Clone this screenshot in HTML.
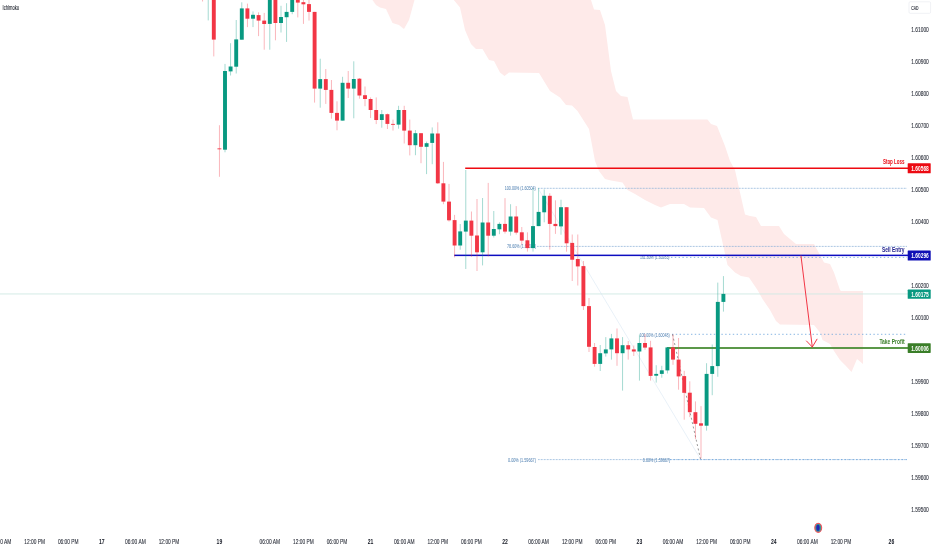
<!DOCTYPE html>
<html lang="en"><head><meta charset="utf-8"><title>Ichimoku chart</title>
<style>html,body{margin:0;padding:0;background:#fff;overflow:hidden}svg{display:block}text{font-family:"Liberation Sans",Arial,sans-serif}</style>
</head><body>
<svg width="932" height="550" viewBox="0 0 932 550" font-family="Liberation Sans, Arial, sans-serif">
<polygon points="372.5,0.0 376.0,5.0 380.0,7.5 386.0,9.0 392.5,23.0 399.0,25.0 404.0,29.0 409.0,20.0 414.5,0.0" fill="#feeae9"/>
<polygon points="453.8,0.0 460.0,7.5 465.0,30.0 471.0,44.0 476.0,49.0 482.5,49.0 489.0,60.0 494.0,61.0 500.0,72.5 504.5,76.0 509.0,72.5 539.0,73.0 550.0,91.0 560.0,97.5 566.0,105.0 572.0,105.5 577.5,111.0 589.0,129.0 595.0,161.0 599.0,171.0 605.0,179.0 611.0,180.5 622.5,182.5 627.5,190.0 635.0,194.0 645.0,200.0 655.0,205.0 661.0,207.5 670.0,204.0 684.0,204.0 690.0,207.5 704.0,208.0 711.0,217.5 717.5,220.0 722.5,242.5 727.5,265.0 735.0,272.5 741.0,276.0 749.0,277.5 757.5,290.0 762.5,299.0 770.0,310.0 776.0,321.0 780.0,324.5 814.0,325.0 820.0,332.5 822.5,340.0 830.0,344.0 834.0,351.0 840.0,360.0 845.0,365.0 851.5,372.0 857.0,359.0 863.0,364.0 863.0,291.0 841.0,291.0 840.0,290.0 834.0,272.5 830.0,264.0 824.0,262.5 820.0,255.0 814.0,244.0 796.0,244.0 784.0,234.0 779.0,226.0 761.0,226.0 756.0,217.0 750.0,216.0 745.0,214.5 740.0,192.5 735.0,170.0 730.0,161.0 725.0,146.0 717.0,126.0 711.0,124.0 707.5,119.5 633.0,119.5 627.5,97.0 621.0,96.0 616.0,91.0 611.0,71.0 605.0,25.0 600.0,10.0 594.0,9.5 591.0,0.0" fill="#feeae9"/>
<rect x="0" y="293.5" width="908" height="0.9" fill="#cfe9e3"/>
<line x1="538" y1="188.3" x2="907" y2="188.3" stroke="#8fb4d9" stroke-width="1" stroke-dasharray="0.75 0.75"/>
<line x1="537" y1="246.4" x2="907" y2="246.4" stroke="#8fb4d9" stroke-width="1" stroke-dasharray="0.75 0.75"/>
<line x1="538" y1="459.6" x2="907" y2="459.6" stroke="#8fb4d9" stroke-width="1" stroke-dasharray="0.75 0.75"/>
<line x1="672" y1="334.3" x2="907" y2="334.3" stroke="#6aa3dc" stroke-width="0.8" stroke-dasharray="1.4 2.4"/>
<line x1="671" y1="257.4" x2="907" y2="257.4" stroke="#6aa3dc" stroke-width="0.8" stroke-dasharray="1.4 2.4"/>
<line x1="670" y1="459.6" x2="907" y2="459.6" stroke="#6aa3dc" stroke-width="0.8" stroke-dasharray="1.4 2.4"/>
<line x1="538" y1="188.3" x2="700.5" y2="459" stroke="#d3e2f1" stroke-width="0.5"/>
<line x1="672.5" y1="334.3" x2="700.5" y2="459" stroke="#707070" stroke-width="0.7" stroke-dasharray="2 2.5"/>
<text x="504.8" y="190.3" font-size="6.2" fill="#6690bb" stroke="#6690bb" stroke-width="0.08" font-weight="normal" text-anchor="start" textLength="31.0" lengthAdjust="spacingAndGlyphs" opacity="1">100.00% (1.60504)</text>
<text x="507.1" y="248.4" font-size="6.2" fill="#6690bb" stroke="#6690bb" stroke-width="0.08" font-weight="normal" text-anchor="start" textLength="29.0" lengthAdjust="spacingAndGlyphs" opacity="1">78.60% (1.60325)</text>
<text x="508.0" y="461.9" font-size="6.2" fill="#6690bb" stroke="#6690bb" stroke-width="0.08" font-weight="normal" text-anchor="start" textLength="28.0" lengthAdjust="spacingAndGlyphs" opacity="1">0.00% (1.59667)</text>
<text x="639.4" y="336.5" font-size="6.2" fill="#6690bb" stroke="#6690bb" stroke-width="0.08" font-weight="normal" text-anchor="start" textLength="30.3" lengthAdjust="spacingAndGlyphs" opacity="1">100.00% (1.60048)</text>
<text x="640.0" y="259.3" font-size="6.2" fill="#6690bb" stroke="#6690bb" stroke-width="0.08" font-weight="normal" text-anchor="start" textLength="29.5" lengthAdjust="spacingAndGlyphs" opacity="1">161.80% (1.60283)</text>
<text x="642.8" y="461.9" font-size="6.2" fill="#6690bb" stroke="#6690bb" stroke-width="0.08" font-weight="normal" text-anchor="start" textLength="27.4" lengthAdjust="spacingAndGlyphs" opacity="1">0.00% (1.59667)</text>
<rect x="465.2" y="167.5" width="443" height="1.5" fill="#ee0a10"/>
<rect x="454.2" y="254.6" width="454" height="1.5" fill="#0d0dc0"/>
<rect x="667" y="347.1" width="241.5" height="1.8" fill="#4a8d36"/>
<rect x="202.15" y="-5.0" width="0.9" height="6.5" fill="#f23645" opacity="0.4"/>
<rect x="200.65" y="-5.0" width="3.9" height="1.0" fill="#f23645"/>
<rect x="207.75" y="-5.0" width="0.9" height="25.4" fill="#089981" opacity="0.4"/>
<rect x="206.25" y="-5.0" width="3.9" height="1.0" fill="#089981"/>
<rect x="213.35" y="-5.0" width="0.9" height="61.4" fill="#f23645" opacity="0.4"/>
<rect x="211.85" y="-5.0" width="3.9" height="44.6" fill="#f23645"/>
<rect x="218.95" y="125.2" width="0.9" height="51.6" fill="#f23645" opacity="0.4"/>
<rect x="217.45" y="148.4" width="3.9" height="0.9" fill="#f23645"/>
<rect x="224.55" y="63.9" width="0.9" height="88.4" fill="#089981" opacity="0.4"/>
<rect x="223.05" y="71.0" width="3.9" height="78.7" fill="#089981"/>
<rect x="230.15" y="43.2" width="0.9" height="32.3" fill="#089981" opacity="0.4"/>
<rect x="228.65" y="66.5" width="3.9" height="4.9" fill="#089981"/>
<rect x="235.75" y="20.0" width="0.9" height="53.5" fill="#089981" opacity="0.4"/>
<rect x="234.25" y="39.4" width="3.9" height="27.3" fill="#089981"/>
<rect x="241.35" y="2.3" width="0.9" height="37.4" fill="#089981" opacity="0.4"/>
<rect x="239.85" y="8.4" width="3.9" height="31.3" fill="#089981"/>
<rect x="246.95" y="3.6" width="0.9" height="23.5" fill="#f23645" opacity="0.4"/>
<rect x="245.45" y="8.4" width="3.9" height="10.3" fill="#f23645"/>
<rect x="252.55" y="11.4" width="0.9" height="15.7" fill="#089981" opacity="0.4"/>
<rect x="251.05" y="14.8" width="3.9" height="3.9" fill="#089981"/>
<rect x="258.15" y="12.3" width="0.9" height="23.8" fill="#f23645" opacity="0.4"/>
<rect x="256.65" y="15.1" width="3.9" height="5.5" fill="#f23645"/>
<rect x="263.75" y="12.9" width="0.9" height="36.8" fill="#f23645" opacity="0.4"/>
<rect x="262.25" y="20.6" width="3.9" height="3.4" fill="#f23645"/>
<rect x="269.35" y="-5.0" width="0.9" height="54.7" fill="#089981" opacity="0.4"/>
<rect x="267.85" y="-5.0" width="3.9" height="28.9" fill="#089981"/>
<rect x="274.95" y="-5.0" width="0.9" height="45.3" fill="#f23645" opacity="0.4"/>
<rect x="273.45" y="-5.0" width="3.9" height="28.0" fill="#f23645"/>
<rect x="280.55" y="5.8" width="0.9" height="26.7" fill="#089981" opacity="0.4"/>
<rect x="279.05" y="17.0" width="3.9" height="6.0" fill="#089981"/>
<rect x="286.15" y="3.2" width="0.9" height="38.7" fill="#089981" opacity="0.4"/>
<rect x="284.65" y="11.9" width="3.9" height="5.3" fill="#089981"/>
<rect x="291.75" y="-5.0" width="0.9" height="19.2" fill="#089981" opacity="0.4"/>
<rect x="290.25" y="-5.0" width="3.9" height="16.9" fill="#089981"/>
<rect x="297.35" y="-5.0" width="0.9" height="22.4" fill="#f23645" opacity="0.4"/>
<rect x="295.85" y="-5.0" width="3.9" height="7.6" fill="#f23645"/>
<rect x="302.95" y="-5.0" width="0.9" height="28.9" fill="#f23645" opacity="0.4"/>
<rect x="301.45" y="2.2" width="3.9" height="2.1" fill="#f23645"/>
<rect x="308.55" y="-5.0" width="0.9" height="25.6" fill="#f23645" opacity="0.4"/>
<rect x="307.05" y="4.1" width="3.9" height="7.8" fill="#f23645"/>
<rect x="314.15" y="11.9" width="0.9" height="90.7" fill="#f23645" opacity="0.4"/>
<rect x="312.65" y="11.9" width="3.9" height="76.7" fill="#f23645"/>
<rect x="319.75" y="58.7" width="0.9" height="49.0" fill="#089981" opacity="0.4"/>
<rect x="318.25" y="79.1" width="3.9" height="9.5" fill="#089981"/>
<rect x="325.35" y="69.0" width="0.9" height="34.9" fill="#f23645" opacity="0.4"/>
<rect x="323.85" y="79.1" width="3.9" height="10.8" fill="#f23645"/>
<rect x="330.95" y="80.0" width="0.9" height="38.7" fill="#f23645" opacity="0.4"/>
<rect x="329.45" y="89.9" width="3.9" height="23.0" fill="#f23645"/>
<rect x="336.55" y="101.3" width="0.9" height="29.0" fill="#f23645" opacity="0.4"/>
<rect x="335.05" y="112.9" width="3.9" height="7.7" fill="#f23645"/>
<rect x="342.15" y="76.8" width="0.9" height="43.8" fill="#089981" opacity="0.4"/>
<rect x="340.65" y="82.8" width="3.9" height="37.8" fill="#089981"/>
<rect x="347.75" y="71.0" width="0.9" height="27.0" fill="#f23645" opacity="0.4"/>
<rect x="346.25" y="82.8" width="3.9" height="5.8" fill="#f23645"/>
<rect x="353.35" y="61.3" width="0.9" height="57.0" fill="#089981" opacity="0.4"/>
<rect x="351.85" y="79.0" width="3.9" height="9.6" fill="#089981"/>
<rect x="358.95" y="78.0" width="0.9" height="20.7" fill="#f23645" opacity="0.4"/>
<rect x="357.45" y="78.7" width="3.9" height="16.8" fill="#f23645"/>
<rect x="364.55" y="86.5" width="0.9" height="19.7" fill="#f23645" opacity="0.4"/>
<rect x="363.05" y="95.2" width="3.9" height="3.8" fill="#f23645"/>
<rect x="370.15" y="97.4" width="0.9" height="20.6" fill="#f23645" opacity="0.4"/>
<rect x="368.65" y="99.0" width="3.9" height="11.0" fill="#f23645"/>
<rect x="375.75" y="97.4" width="0.9" height="26.7" fill="#f23645" opacity="0.4"/>
<rect x="374.25" y="110.0" width="3.9" height="10.0" fill="#f23645"/>
<rect x="381.35" y="110.0" width="0.9" height="17.7" fill="#089981" opacity="0.4"/>
<rect x="379.85" y="114.2" width="3.9" height="5.8" fill="#089981"/>
<rect x="386.95" y="113.5" width="0.9" height="15.5" fill="#f23645" opacity="0.4"/>
<rect x="385.45" y="114.2" width="3.9" height="9.7" fill="#f23645"/>
<rect x="392.55" y="119.6" width="0.9" height="11.0" fill="#f23645" opacity="0.4"/>
<rect x="391.05" y="123.9" width="3.9" height="0.9" fill="#f23645"/>
<rect x="398.15" y="105.8" width="0.9" height="22.9" fill="#089981" opacity="0.4"/>
<rect x="396.65" y="110.0" width="3.9" height="14.6" fill="#089981"/>
<rect x="403.75" y="105.8" width="0.9" height="37.7" fill="#f23645" opacity="0.4"/>
<rect x="402.25" y="110.0" width="3.9" height="20.6" fill="#f23645"/>
<rect x="409.35" y="119.6" width="0.9" height="35.8" fill="#f23645" opacity="0.4"/>
<rect x="407.85" y="130.6" width="3.9" height="14.6" fill="#f23645"/>
<rect x="414.95" y="130.0" width="0.9" height="25.2" fill="#089981" opacity="0.4"/>
<rect x="413.45" y="133.2" width="3.9" height="12.0" fill="#089981"/>
<rect x="420.55" y="133.0" width="0.9" height="30.2" fill="#f23645" opacity="0.4"/>
<rect x="419.05" y="133.2" width="3.9" height="13.6" fill="#f23645"/>
<rect x="426.15" y="141.6" width="0.9" height="32.5" fill="#089981" opacity="0.4"/>
<rect x="424.65" y="143.2" width="3.9" height="3.6" fill="#089981"/>
<rect x="431.75" y="127.4" width="0.9" height="36.8" fill="#089981" opacity="0.4"/>
<rect x="430.25" y="133.5" width="3.9" height="9.4" fill="#089981"/>
<rect x="437.35" y="122.3" width="0.9" height="61.7" fill="#f23645" opacity="0.4"/>
<rect x="435.85" y="133.5" width="3.9" height="49.8" fill="#f23645"/>
<rect x="442.95" y="161.9" width="0.9" height="42.3" fill="#f23645" opacity="0.4"/>
<rect x="441.45" y="183.3" width="3.9" height="18.3" fill="#f23645"/>
<rect x="448.55" y="183.9" width="0.9" height="37.7" fill="#f23645" opacity="0.4"/>
<rect x="447.05" y="201.6" width="3.9" height="18.7" fill="#f23645"/>
<rect x="454.15" y="214.9" width="0.9" height="42.5" fill="#f23645" opacity="0.4"/>
<rect x="452.65" y="220.1" width="3.9" height="25.4" fill="#f23645"/>
<rect x="459.75" y="224.0" width="0.9" height="25.7" fill="#089981" opacity="0.4"/>
<rect x="458.25" y="231.4" width="3.9" height="14.1" fill="#089981"/>
<rect x="465.35" y="170.0" width="0.9" height="99.0" fill="#089981" opacity="0.4"/>
<rect x="463.85" y="220.6" width="3.9" height="11.0" fill="#089981"/>
<rect x="470.95" y="211.5" width="0.9" height="45.3" fill="#f23645" opacity="0.4"/>
<rect x="469.45" y="220.6" width="3.9" height="15.1" fill="#f23645"/>
<rect x="476.55" y="199.0" width="0.9" height="72.0" fill="#f23645" opacity="0.4"/>
<rect x="475.05" y="235.5" width="3.9" height="16.8" fill="#f23645"/>
<rect x="482.15" y="198.0" width="0.9" height="67.4" fill="#089981" opacity="0.4"/>
<rect x="480.65" y="222.5" width="3.9" height="29.8" fill="#089981"/>
<rect x="487.75" y="182.9" width="0.9" height="73.6" fill="#f23645" opacity="0.4"/>
<rect x="486.25" y="222.5" width="3.9" height="13.2" fill="#f23645"/>
<rect x="493.35" y="211.0" width="0.9" height="26.5" fill="#089981" opacity="0.4"/>
<rect x="491.85" y="229.0" width="3.9" height="6.7" fill="#089981"/>
<rect x="498.95" y="222.3" width="0.9" height="11.9" fill="#089981" opacity="0.4"/>
<rect x="497.45" y="223.9" width="3.9" height="5.4" fill="#089981"/>
<rect x="504.55" y="198.1" width="0.9" height="35.4" fill="#f23645" opacity="0.4"/>
<rect x="503.05" y="223.9" width="3.9" height="7.7" fill="#f23645"/>
<rect x="510.15" y="204.2" width="0.9" height="31.5" fill="#089981" opacity="0.4"/>
<rect x="508.65" y="216.5" width="3.9" height="15.1" fill="#089981"/>
<rect x="515.75" y="206.1" width="0.9" height="28.5" fill="#f23645" opacity="0.4"/>
<rect x="514.25" y="216.5" width="3.9" height="16.1" fill="#f23645"/>
<rect x="521.35" y="227.0" width="0.9" height="17.5" fill="#f23645" opacity="0.4"/>
<rect x="519.85" y="232.3" width="3.9" height="8.3" fill="#f23645"/>
<rect x="526.95" y="232.3" width="0.9" height="19.3" fill="#f23645" opacity="0.4"/>
<rect x="525.45" y="240.3" width="3.9" height="7.8" fill="#f23645"/>
<rect x="532.55" y="188.1" width="0.9" height="63.5" fill="#089981" opacity="0.4"/>
<rect x="531.05" y="226.1" width="3.9" height="22.0" fill="#089981"/>
<rect x="538.15" y="188.1" width="0.9" height="38.0" fill="#089981" opacity="0.4"/>
<rect x="536.65" y="211.9" width="3.9" height="14.2" fill="#089981"/>
<rect x="543.75" y="189.4" width="0.9" height="32.9" fill="#089981" opacity="0.4"/>
<rect x="542.25" y="195.8" width="3.9" height="16.5" fill="#089981"/>
<rect x="549.35" y="193.2" width="0.9" height="56.4" fill="#f23645" opacity="0.4"/>
<rect x="547.85" y="195.8" width="3.9" height="28.1" fill="#f23645"/>
<rect x="554.95" y="200.3" width="0.9" height="33.6" fill="#f23645" opacity="0.4"/>
<rect x="553.45" y="223.9" width="3.9" height="2.2" fill="#f23645"/>
<rect x="560.55" y="199.7" width="0.9" height="35.0" fill="#089981" opacity="0.4"/>
<rect x="559.05" y="207.2" width="3.9" height="19.2" fill="#089981"/>
<rect x="566.15" y="207.2" width="0.9" height="44.5" fill="#f23645" opacity="0.4"/>
<rect x="564.65" y="207.2" width="3.9" height="36.1" fill="#f23645"/>
<rect x="571.75" y="234.5" width="0.9" height="46.5" fill="#f23645" opacity="0.4"/>
<rect x="570.25" y="242.9" width="3.9" height="16.8" fill="#f23645"/>
<rect x="577.35" y="234.5" width="0.9" height="51.0" fill="#f23645" opacity="0.4"/>
<rect x="575.85" y="259.0" width="3.9" height="7.4" fill="#f23645"/>
<rect x="582.95" y="261.0" width="0.9" height="49.0" fill="#f23645" opacity="0.4"/>
<rect x="581.45" y="266.1" width="3.9" height="40.0" fill="#f23645"/>
<rect x="588.55" y="298.0" width="0.9" height="54.0" fill="#f23645" opacity="0.4"/>
<rect x="587.05" y="306.1" width="3.9" height="40.7" fill="#f23645"/>
<rect x="594.15" y="343.0" width="0.9" height="23.7" fill="#f23645" opacity="0.4"/>
<rect x="592.65" y="347.0" width="3.9" height="16.9" fill="#f23645"/>
<rect x="599.75" y="345.0" width="0.9" height="26.0" fill="#089981" opacity="0.4"/>
<rect x="598.25" y="353.2" width="3.9" height="10.7" fill="#089981"/>
<rect x="605.35" y="337.1" width="0.9" height="19.5" fill="#089981" opacity="0.4"/>
<rect x="603.85" y="349.4" width="3.9" height="4.0" fill="#089981"/>
<rect x="610.95" y="333.9" width="0.9" height="25.7" fill="#089981" opacity="0.4"/>
<rect x="609.45" y="338.4" width="3.9" height="11.0" fill="#089981"/>
<rect x="616.55" y="328.5" width="0.9" height="37.3" fill="#f23645" opacity="0.4"/>
<rect x="615.05" y="338.4" width="3.9" height="14.8" fill="#f23645"/>
<rect x="622.15" y="337.1" width="0.9" height="53.5" fill="#089981" opacity="0.4"/>
<rect x="620.65" y="345.2" width="3.9" height="8.0" fill="#089981"/>
<rect x="627.75" y="341.0" width="0.9" height="18.6" fill="#f23645" opacity="0.4"/>
<rect x="626.25" y="345.2" width="3.9" height="4.2" fill="#f23645"/>
<rect x="633.35" y="345.5" width="0.9" height="10.5" fill="#f23645" opacity="0.4"/>
<rect x="631.85" y="349.4" width="3.9" height="2.1" fill="#f23645"/>
<rect x="638.95" y="334.5" width="0.9" height="46.1" fill="#089981" opacity="0.4"/>
<rect x="637.45" y="343.0" width="3.9" height="8.5" fill="#089981"/>
<rect x="644.55" y="333.9" width="0.9" height="15.9" fill="#f23645" opacity="0.4"/>
<rect x="643.05" y="343.0" width="3.9" height="4.6" fill="#f23645"/>
<rect x="650.15" y="340.8" width="0.9" height="39.8" fill="#f23645" opacity="0.4"/>
<rect x="648.65" y="347.4" width="3.9" height="28.5" fill="#f23645"/>
<rect x="655.75" y="365.2" width="0.9" height="17.4" fill="#089981" opacity="0.4"/>
<rect x="654.25" y="373.9" width="3.9" height="1.8" fill="#089981"/>
<rect x="661.35" y="365.8" width="0.9" height="11.9" fill="#089981" opacity="0.4"/>
<rect x="659.85" y="370.3" width="3.9" height="3.6" fill="#089981"/>
<rect x="666.95" y="347.4" width="0.9" height="26.1" fill="#089981" opacity="0.4"/>
<rect x="665.45" y="347.4" width="3.9" height="23.0" fill="#089981"/>
<rect x="672.55" y="334.5" width="0.9" height="30.3" fill="#f23645" opacity="0.4"/>
<rect x="671.05" y="347.4" width="3.9" height="12.2" fill="#f23645"/>
<rect x="678.15" y="338.0" width="0.9" height="51.7" fill="#f23645" opacity="0.4"/>
<rect x="676.65" y="359.6" width="3.9" height="16.8" fill="#f23645"/>
<rect x="683.75" y="370.8" width="0.9" height="48.9" fill="#f23645" opacity="0.4"/>
<rect x="682.25" y="376.1" width="3.9" height="16.7" fill="#f23645"/>
<rect x="689.35" y="381.3" width="0.9" height="35.8" fill="#f23645" opacity="0.4"/>
<rect x="687.85" y="392.7" width="3.9" height="19.5" fill="#f23645"/>
<rect x="694.95" y="401.4" width="0.9" height="37.6" fill="#f23645" opacity="0.4"/>
<rect x="693.45" y="412.2" width="3.9" height="11.6" fill="#f23645"/>
<rect x="700.55" y="406.1" width="0.9" height="52.3" fill="#f23645" opacity="0.4"/>
<rect x="699.05" y="423.3" width="3.9" height="2.4" fill="#f23645"/>
<rect x="706.15" y="363.2" width="0.9" height="67.4" fill="#089981" opacity="0.4"/>
<rect x="704.65" y="373.9" width="3.9" height="51.8" fill="#089981"/>
<rect x="711.75" y="344.5" width="0.9" height="50.7" fill="#089981" opacity="0.4"/>
<rect x="710.25" y="366.1" width="3.9" height="7.8" fill="#089981"/>
<rect x="717.35" y="282.6" width="0.9" height="94.2" fill="#089981" opacity="0.4"/>
<rect x="715.85" y="301.9" width="3.9" height="64.2" fill="#089981"/>
<rect x="722.95" y="276.1" width="0.9" height="35.5" fill="#089981" opacity="0.4"/>
<rect x="721.45" y="293.9" width="3.9" height="8.0" fill="#089981"/>
<path d="M801 256 L812.3 347 M806.5 341 L812.3 347 L817 339.2" stroke="#f23645" stroke-width="1" fill="none" stroke-linecap="round" stroke-linejoin="round"/>
<text x="911.3" y="31.9" font-size="6.8" fill="#2a2e39" stroke="#2a2e39" stroke-width="0.1" font-weight="normal" text-anchor="start" textLength="17.5" lengthAdjust="spacingAndGlyphs" opacity="1">1.61000</text>
<text x="911.3" y="64.0" font-size="6.8" fill="#2a2e39" stroke="#2a2e39" stroke-width="0.1" font-weight="normal" text-anchor="start" textLength="17.5" lengthAdjust="spacingAndGlyphs" opacity="1">1.60900</text>
<text x="911.3" y="96.0" font-size="6.8" fill="#2a2e39" stroke="#2a2e39" stroke-width="0.1" font-weight="normal" text-anchor="start" textLength="17.5" lengthAdjust="spacingAndGlyphs" opacity="1">1.60800</text>
<text x="911.3" y="128.0" font-size="6.8" fill="#2a2e39" stroke="#2a2e39" stroke-width="0.1" font-weight="normal" text-anchor="start" textLength="17.5" lengthAdjust="spacingAndGlyphs" opacity="1">1.60700</text>
<text x="911.3" y="159.9" font-size="6.8" fill="#2a2e39" stroke="#2a2e39" stroke-width="0.1" font-weight="normal" text-anchor="start" textLength="17.5" lengthAdjust="spacingAndGlyphs" opacity="1">1.60600</text>
<text x="911.3" y="191.9" font-size="6.8" fill="#2a2e39" stroke="#2a2e39" stroke-width="0.1" font-weight="normal" text-anchor="start" textLength="17.5" lengthAdjust="spacingAndGlyphs" opacity="1">1.60500</text>
<text x="911.3" y="223.9" font-size="6.8" fill="#2a2e39" stroke="#2a2e39" stroke-width="0.1" font-weight="normal" text-anchor="start" textLength="17.5" lengthAdjust="spacingAndGlyphs" opacity="1">1.60400</text>
<text x="911.3" y="255.9" font-size="6.8" fill="#2a2e39" stroke="#2a2e39" stroke-width="0.1" font-weight="normal" text-anchor="start" textLength="17.5" lengthAdjust="spacingAndGlyphs" opacity="1">1.60300</text>
<text x="911.3" y="287.9" font-size="6.8" fill="#2a2e39" stroke="#2a2e39" stroke-width="0.1" font-weight="normal" text-anchor="start" textLength="17.5" lengthAdjust="spacingAndGlyphs" opacity="1">1.60200</text>
<text x="911.3" y="319.9" font-size="6.8" fill="#2a2e39" stroke="#2a2e39" stroke-width="0.1" font-weight="normal" text-anchor="start" textLength="17.5" lengthAdjust="spacingAndGlyphs" opacity="1">1.60100</text>
<text x="911.3" y="351.9" font-size="6.8" fill="#2a2e39" stroke="#2a2e39" stroke-width="0.1" font-weight="normal" text-anchor="start" textLength="17.5" lengthAdjust="spacingAndGlyphs" opacity="1">1.60000</text>
<text x="911.3" y="383.9" font-size="6.8" fill="#2a2e39" stroke="#2a2e39" stroke-width="0.1" font-weight="normal" text-anchor="start" textLength="17.5" lengthAdjust="spacingAndGlyphs" opacity="1">1.59900</text>
<text x="911.3" y="415.9" font-size="6.8" fill="#2a2e39" stroke="#2a2e39" stroke-width="0.1" font-weight="normal" text-anchor="start" textLength="17.5" lengthAdjust="spacingAndGlyphs" opacity="1">1.59800</text>
<text x="911.3" y="447.9" font-size="6.8" fill="#2a2e39" stroke="#2a2e39" stroke-width="0.1" font-weight="normal" text-anchor="start" textLength="17.5" lengthAdjust="spacingAndGlyphs" opacity="1">1.59700</text>
<text x="911.3" y="479.9" font-size="6.8" fill="#2a2e39" stroke="#2a2e39" stroke-width="0.1" font-weight="normal" text-anchor="start" textLength="17.5" lengthAdjust="spacingAndGlyphs" opacity="1">1.59600</text>
<text x="911.3" y="511.9" font-size="6.8" fill="#2a2e39" stroke="#2a2e39" stroke-width="0.1" font-weight="normal" text-anchor="start" textLength="17.5" lengthAdjust="spacingAndGlyphs" opacity="1">1.59500</text>
<rect x="907.7" y="163.2" width="23" height="10.1" fill="#ec0a12" rx="0.6"/><text x="911.3" y="170.7" font-size="6.8" fill="#ffffff" font-weight="bold" text-anchor="start" textLength="17.5" lengthAdjust="spacingAndGlyphs" opacity="1">1.60568</text>
<rect x="907.7" y="250.4" width="23" height="10.2" fill="#0f0fb5" rx="0.6"/><text x="911.3" y="257.9" font-size="6.8" fill="#ffffff" font-weight="bold" text-anchor="start" textLength="17.5" lengthAdjust="spacingAndGlyphs" opacity="1">1.60296</text>
<rect x="907.7" y="289.6" width="23" height="9.2" fill="#089981" rx="0.6"/><text x="911.3" y="296.7" font-size="6.8" fill="#ffffff" font-weight="bold" text-anchor="start" textLength="17.5" lengthAdjust="spacingAndGlyphs" opacity="1">1.60175</text>
<rect x="907.7" y="343.2" width="23" height="9.7" fill="#3a7e28" rx="0.6"/><text x="911.3" y="350.5" font-size="6.8" fill="#ffffff" font-weight="bold" text-anchor="start" textLength="17.5" lengthAdjust="spacingAndGlyphs" opacity="1">1.60006</text>
<text x="882.9" y="164.0" font-size="6.3" fill="#ea0f18" font-weight="bold" text-anchor="start" textLength="21.7" lengthAdjust="spacingAndGlyphs" opacity="1">Stop Loss</text>
<text x="882.0" y="251.5" font-size="6.3" fill="#1a1a8a" font-weight="bold" text-anchor="start" textLength="22.5" lengthAdjust="spacingAndGlyphs" opacity="1">Sell Entry</text>
<text x="879.4" y="343.8" font-size="6.3" fill="#3a7f29" font-weight="bold" text-anchor="start" textLength="25.3" lengthAdjust="spacingAndGlyphs" opacity="1">Take Profit</text>
<rect x="909" y="1.8" width="21.6" height="11.5" fill="#fff" stroke="#e6e8ee" stroke-width="0.6" rx="1.2"/>
<text x="911.2" y="10.0" font-size="5.6" fill="#2a2e39" stroke="#2a2e39" stroke-width="0.15" font-weight="normal" text-anchor="start" textLength="7.2" lengthAdjust="spacingAndGlyphs" opacity="1">CAD</text>
<text x="2.6" y="10.0" font-size="6.4" fill="#131722" stroke="#131722" stroke-width="0.08" font-weight="normal" text-anchor="start" textLength="16.4" lengthAdjust="spacingAndGlyphs" opacity="1">Ichimoku</text>
<text x="169.0" y="544.0" font-size="6.8" fill="#2a2e39" stroke="#2a2e39" stroke-width="0.1" font-weight="normal" text-anchor="middle" textLength="20.6" lengthAdjust="spacingAndGlyphs" opacity="1">12:00 PM</text>
<text x="135.4" y="544.0" font-size="6.8" fill="#2a2e39" stroke="#2a2e39" stroke-width="0.1" font-weight="normal" text-anchor="middle" textLength="20.6" lengthAdjust="spacingAndGlyphs" opacity="1">06:00 AM</text>
<text x="68.2" y="544.0" font-size="6.8" fill="#2a2e39" stroke="#2a2e39" stroke-width="0.1" font-weight="normal" text-anchor="middle" textLength="20.6" lengthAdjust="spacingAndGlyphs" opacity="1">06:00 PM</text>
<text x="34.6" y="544.0" font-size="6.8" fill="#2a2e39" stroke="#2a2e39" stroke-width="0.1" font-weight="normal" text-anchor="middle" textLength="20.6" lengthAdjust="spacingAndGlyphs" opacity="1">12:00 PM</text>
<text x="1.0" y="544.0" font-size="6.8" fill="#2a2e39" stroke="#2a2e39" stroke-width="0.1" font-weight="normal" text-anchor="middle" textLength="20.6" lengthAdjust="spacingAndGlyphs" opacity="1">06:00 AM</text>
<text x="269.8" y="544.0" font-size="6.8" fill="#2a2e39" stroke="#2a2e39" stroke-width="0.1" font-weight="normal" text-anchor="middle" textLength="20.6" lengthAdjust="spacingAndGlyphs" opacity="1">06:00 AM</text>
<text x="303.4" y="544.0" font-size="6.8" fill="#2a2e39" stroke="#2a2e39" stroke-width="0.1" font-weight="normal" text-anchor="middle" textLength="20.6" lengthAdjust="spacingAndGlyphs" opacity="1">12:00 PM</text>
<text x="337.0" y="544.0" font-size="6.8" fill="#2a2e39" stroke="#2a2e39" stroke-width="0.1" font-weight="normal" text-anchor="middle" textLength="20.6" lengthAdjust="spacingAndGlyphs" opacity="1">06:00 PM</text>
<text x="404.2" y="544.0" font-size="6.8" fill="#2a2e39" stroke="#2a2e39" stroke-width="0.1" font-weight="normal" text-anchor="middle" textLength="20.6" lengthAdjust="spacingAndGlyphs" opacity="1">06:00 AM</text>
<text x="437.8" y="544.0" font-size="6.8" fill="#2a2e39" stroke="#2a2e39" stroke-width="0.1" font-weight="normal" text-anchor="middle" textLength="20.6" lengthAdjust="spacingAndGlyphs" opacity="1">12:00 PM</text>
<text x="471.4" y="544.0" font-size="6.8" fill="#2a2e39" stroke="#2a2e39" stroke-width="0.1" font-weight="normal" text-anchor="middle" textLength="20.6" lengthAdjust="spacingAndGlyphs" opacity="1">06:00 PM</text>
<text x="538.6" y="544.0" font-size="6.8" fill="#2a2e39" stroke="#2a2e39" stroke-width="0.1" font-weight="normal" text-anchor="middle" textLength="20.6" lengthAdjust="spacingAndGlyphs" opacity="1">06:00 AM</text>
<text x="572.2" y="544.0" font-size="6.8" fill="#2a2e39" stroke="#2a2e39" stroke-width="0.1" font-weight="normal" text-anchor="middle" textLength="20.6" lengthAdjust="spacingAndGlyphs" opacity="1">12:00 PM</text>
<text x="605.8" y="544.0" font-size="6.8" fill="#2a2e39" stroke="#2a2e39" stroke-width="0.1" font-weight="normal" text-anchor="middle" textLength="20.6" lengthAdjust="spacingAndGlyphs" opacity="1">06:00 PM</text>
<text x="673.0" y="544.0" font-size="6.8" fill="#2a2e39" stroke="#2a2e39" stroke-width="0.1" font-weight="normal" text-anchor="middle" textLength="20.6" lengthAdjust="spacingAndGlyphs" opacity="1">06:00 AM</text>
<text x="706.6" y="544.0" font-size="6.8" fill="#2a2e39" stroke="#2a2e39" stroke-width="0.1" font-weight="normal" text-anchor="middle" textLength="20.6" lengthAdjust="spacingAndGlyphs" opacity="1">12:00 PM</text>
<text x="740.2" y="544.0" font-size="6.8" fill="#2a2e39" stroke="#2a2e39" stroke-width="0.1" font-weight="normal" text-anchor="middle" textLength="20.6" lengthAdjust="spacingAndGlyphs" opacity="1">06:00 PM</text>
<text x="807.4" y="544.0" font-size="6.8" fill="#2a2e39" stroke="#2a2e39" stroke-width="0.1" font-weight="normal" text-anchor="middle" textLength="20.6" lengthAdjust="spacingAndGlyphs" opacity="1">06:00 AM</text>
<text x="841.0" y="544.0" font-size="6.8" fill="#2a2e39" stroke="#2a2e39" stroke-width="0.1" font-weight="normal" text-anchor="middle" textLength="20.6" lengthAdjust="spacingAndGlyphs" opacity="1">12:00 PM</text>
<text x="101.8" y="544.0" font-size="6.8" fill="#131722" font-weight="bold" text-anchor="middle" textLength="5.6" lengthAdjust="spacingAndGlyphs" opacity="1">17</text>
<text x="219.4" y="544.0" font-size="6.8" fill="#131722" font-weight="bold" text-anchor="middle" textLength="5.6" lengthAdjust="spacingAndGlyphs" opacity="1">19</text>
<text x="370.6" y="544.0" font-size="6.8" fill="#131722" font-weight="bold" text-anchor="middle" textLength="5.6" lengthAdjust="spacingAndGlyphs" opacity="1">21</text>
<text x="505.0" y="544.0" font-size="6.8" fill="#131722" font-weight="bold" text-anchor="middle" textLength="5.6" lengthAdjust="spacingAndGlyphs" opacity="1">22</text>
<text x="639.4" y="544.0" font-size="6.8" fill="#131722" font-weight="bold" text-anchor="middle" textLength="5.6" lengthAdjust="spacingAndGlyphs" opacity="1">23</text>
<text x="773.8" y="544.0" font-size="6.8" fill="#131722" font-weight="bold" text-anchor="middle" textLength="5.6" lengthAdjust="spacingAndGlyphs" opacity="1">24</text>
<text x="891.4" y="544.0" font-size="6.8" fill="#131722" font-weight="bold" text-anchor="middle" textLength="5.6" lengthAdjust="spacingAndGlyphs" opacity="1">26</text>
<ellipse cx="818.2" cy="527.8" rx="3.4" ry="4.5" fill="#22a699" stroke="#f7525f" stroke-width="1.2"/><ellipse cx="818.0" cy="527.8" rx="1.7" ry="3.1" fill="#2626b4"/>
</svg>
</body></html>
